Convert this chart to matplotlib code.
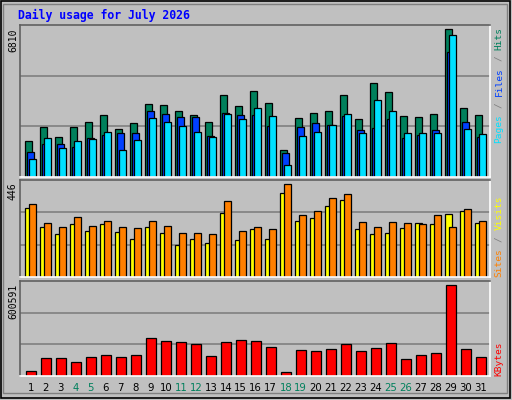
import matplotlib
matplotlib.use("Agg")
import matplotlib.pyplot as plt
from matplotlib.patches import Rectangle

days = list(range(1, 32))
weekend = [4, 5, 11, 12, 18, 19, 25, 26]
hits = [1680, 2327, 1865, 2327, 2558, 2881, 2234, 2512, 3390, 3344, 3066, 2881, 2558, 3806, 3298,
        3945, 3436, 1264, 2743, 2974, 3066, 3806, 2697, 4315, 3899, 2835, 2789, 2928, 6810, 3205, 2881]
files = [1171, 1541, 1541, 1402, 1818, 1957, 2050, 2050, 3066, 2928, 2789, 2789, 1911, 2974, 2881,
         2881, 2373, 1125, 2327, 2512, 2419, 2835, 2188, 2281, 2697, 1818, 1957, 2188, 5748, 2558, 1865]
pages = [848, 1818, 1356, 1680, 1772, 2096, 1264, 1726, 2743, 2558, 2373, 2096, 1865, 2928, 2697,
         3205, 2835, 570, 1911, 2096, 2419, 2928, 2050, 3575, 3066, 2050, 2050, 2050, 6534, 2234, 2003]
sites = [330, 242, 208, 252, 223, 252, 218, 184, 238, 213, 155, 184, 165, 305, 179,
         228, 184, 402, 271, 281, 339, 368, 228, 204, 213, 233, 257, 252, 301, 315, 257]
visits = [349, 257, 242, 286, 247, 267, 238, 233, 267, 247, 213, 213, 204, 364, 223,
          242, 228, 446, 296, 315, 378, 398, 262, 238, 262, 257, 252, 296, 242, 325, 271]
kbytes = [35070, 120560, 120560, 94260, 127140, 140290, 127140, 140290, 252080, 232350, 225780,
          212620, 133710, 225780, 238930, 232350, 192890, 28500, 173170, 166590, 179740, 212620,
          166590, 186320, 219200, 113980, 140290, 153440, 600591, 179740, 127140]

W, H = 512, 400
BG = "#C0C0C0"
C_HITS, C_FILES, C_PAGES = "#00805C", "#0040FF", "#00E0FF"
C_SITES, C_VISITS, C_KB = "#FFFF00", "#FF8000", "#FF0000"
WKND = "#00805C"
MONO = "DejaVu Sans Mono"

fig = plt.figure(figsize=(W / 100, H / 100), dpi=100, facecolor=BG)

def fx(px): return px / W
def fy(py): return 1 - py / H

fig.patches.append(Rectangle((fx(1), fy(398)), fx(509), 397 / H, transform=fig.transFigure,
                             fill=False, edgecolor="black", lw=1.2))
fig.patches.append(Rectangle((fx(3), fy(393)), fx(504), 389 / H, transform=fig.transFigure,
                             fill=False, edgecolor="#808080", lw=1.0))

L, R = 20, 490
NS = (R - L) / 15.0
lw = 0.9

def panel(top, bottom, ymax):
    ax = fig.add_axes([fx(L), fy(bottom), fx(R - L), (bottom - top) / H])
    ax.set_facecolor(BG)
    ax.set_xlim(0, NS)
    ax.set_ylim(0, ymax)
    for v in (ymax / 3, 2 * ymax / 3):
        ax.axhline(v, color="#808080", lw=1.2, zorder=0)
    ax.set_xticks([]); ax.set_yticks([])
    for s in ("top", "left"):
        ax.spines[s].set_color("#606060")
    for s in ("bottom", "right"):
        ax.spines[s].set_color("white")
    for s in ax.spines.values():
        s.set_linewidth(1.2)
    return ax

x0 = [i + 5.3 / 15 for i in range(31)]

ax1 = panel(25, 177, 6810 * 151.8 / 147.4)
w = 7 / 15
ax1.bar(x0, hits, width=w, align="edge", color=C_HITS, edgecolor="black", lw=lw)
ax1.bar([x + 2 / 15 for x in x0], files, width=w, align="edge", color=C_FILES, edgecolor="black", lw=lw)
ax1.bar([x + 4 / 15 for x in x0], pages, width=w, align="edge", color=C_PAGES, edgecolor="black", lw=lw)

ax2 = panel(180, 277, 446 * 96 / 92)
ax2.bar(x0, sites, width=w, align="edge", color=C_SITES, edgecolor="black", lw=lw)
ax2.bar([x + 4 / 15 for x in x0], visits, width=w, align="edge", color=C_VISITS, edgecolor="black", lw=lw)

ax3 = panel(281, 376, 600591 * 95.4 / 91.3)
ax3.bar([x + 1 / 15 for x in x0], kbytes, width=10 / 15, align="edge", color=C_KB, edgecolor="black", lw=lw)

fig.text(fx(18), fy(15), "Daily usage for July 2026", color="#0000FF", family=MONO,
         fontweight="bold", fontsize=8.3, va="center", ha="left")

for i, d in enumerate(days):
    fig.text(fx(L + 15 * i + 10.8), fy(388), str(d), ha="center", va="center", fontsize=7.3,
             color=WKND if d in weekend else "black")

for txt, ytop in (("6810", 28), ("446", 182), ("600591", 284)):
    fig.text(fx(13), fy(ytop), txt, rotation=90, ha="center", va="top", family=MONO, fontsize=7)

FS = 6.8
ADV = FS / 72 * 100 * 0.602 + 0.15
def vlabel(parts, ybottom):
    y = ybottom
    for s, c in parts:
        fig.text(fx(499), fy(y), s, rotation=90, rotation_mode="anchor", ha="left", va="center",
                 family=MONO, fontsize=FS, color=c)
        y -= ADV * len(s)

vlabel([("Pages", C_PAGES), ("/", "#808080"), ("Files", C_FILES), ("/", "#808080"), ("Hits", C_HITS)][:0] or
       [("Pages", C_PAGES)], 143)
# remaining pieces placed after "Pages" with spacing for " / "
def vseq(parts, ybottom):
    y = ybottom
    for s, c in parts:
        stripped = s.strip()
        if stripped:
            off = len(s) - len(s.lstrip())
            fig.text(fx(499), fy(y - off * ADV), stripped, rotation=90, rotation_mode="anchor",
                     ha="left", va="center", family=MONO, fontsize=FS, color=c)
        y -= ADV * len(s)

vseq([(" / ", "#808080"), ("Files", C_FILES), (" / ", "#808080"), ("Hits", C_HITS)], 143 - 5 * ADV)
vseq([("Sites", C_VISITS), (" / ", "#808080"), ("Visits", C_SITES)], 277)
vseq([("KBytes", C_KB)], 376)

fig.savefig("out.png", dpi=100, facecolor=BG)
